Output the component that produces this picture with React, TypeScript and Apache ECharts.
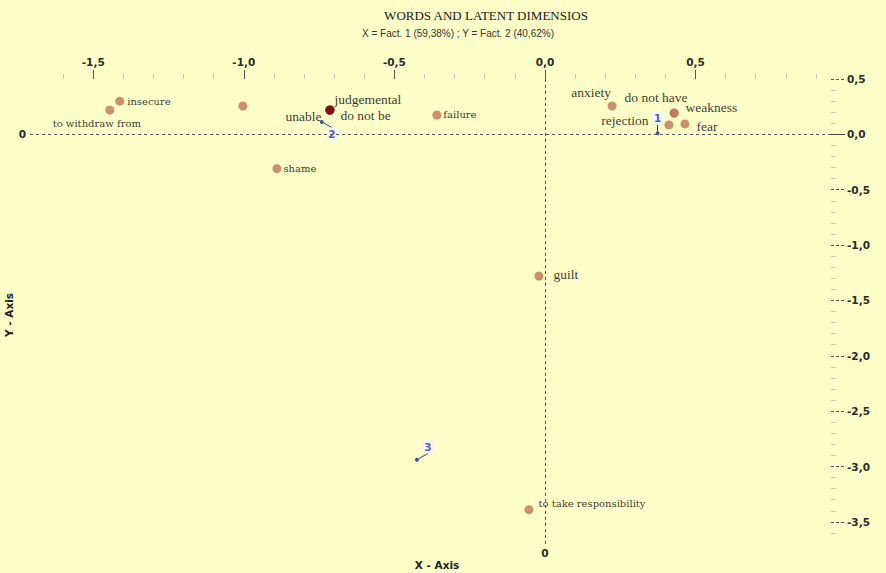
import React, { useEffect, useRef } from "react";
import * as echarts from "echarts";

// ---- data ----
const words = [
  "to withdraw from",
  "insecure",
  "",
  "judgemental",
  "do not be",
  "unable",
  "failure",
  "shame",
  "anxiety",
  "do not have",
  "weakness",
  "rejection",
  "fear",
  "guilt",
  "to take responsibility",
];
const fact1 = [-1.445, -1.412, -1.003, -0.714, -0.714, -0.714, -0.359, -0.89, 0.223, 0.429, 0.429, 0.412, 0.465, -0.02, -0.053];
const fact2 = [0.22, 0.3, 0.256, 0.22, 0.22, 0.22, 0.175, -0.31, 0.256, 0.193, 0.193, 0.085, 0.094, -1.28, -3.39];

const dimNames = ["1", "2", "3"];
const dimX = [0.374, -0.741, -0.425];
const dimY = [0.01, 0.112, -2.94];

const xMajorTicks = [-1.5, -1.0, -0.5, 0, 0.5];
const xMinorTicks = [-1.6, -1.4, -1.3, -1.2, -1.1, -0.9, -0.8, -0.7, -0.6, -0.4, -0.3, -0.2, -0.1, 0.1, 0.2, 0.3, 0.4, 0.6, 0.7, 0.8, 0.9];
const yMajorTicks = [0.5, 0, -0.5, -1.0, -1.5, -2.0, -2.5, -3.0, -3.5];
const yMinorTicks = [0.4, 0.3, 0.2, 0.1, -0.1, -0.2, -0.3, -0.4, -0.6, -0.7, -0.8, -0.9, -1.1, -1.2, -1.3, -1.4, -1.6, -1.7, -1.8, -1.9, -2.1, -2.2, -2.3, -2.4, -2.6, -2.7, -2.8, -2.9, -3.1, -3.2, -3.3, -3.4, -3.6];
const originTick = [0];

const titleText = "WORDS AND LATENT DIMENSIOS";
const subtitleText = "X = Fact. 1 (59,38%) ; Y = Fact. 2 (40,62%)";

// ---- styling (not data) ----
const big = { fontSize: 13.5, fontFamily: "Liberation Serif" };
const small = { fontSize: 10, fontFamily: "DejaVu Serif" };
const labelPlacement: Record<string, any> = {
  "to withdraw from": { position: "bottom", distance: 4, offset: [-13, 0], ...small },
  insecure: { position: "right", distance: 3, ...small },
  "": { show: false },
  judgemental: { position: "right", distance: 0, offset: [0, -11], ...big },
  "do not be": { position: "right", distance: 6, offset: [0, 5], ...big },
  unable: { position: "left", distance: 4, offset: [0, 6], ...big },
  failure: { position: "right", distance: 2, ...small },
  shame: { position: "right", distance: 2, ...small },
  anxiety: { position: "top", distance: 2, offset: [-21, 0], ...big },
  "do not have": { position: "top", distance: 4, offset: [-18, 0], ...big },
  weakness: { position: "right", distance: 7, offset: [0, -5], ...big },
  rejection: { position: "left", distance: 16, offset: [0, -4], ...big },
  fear: { position: "right", distance: 7, offset: [0, 3], ...big },
  guilt: { position: "right", distance: 10, offset: [0, -2], ...big },
  "to take responsibility": { position: "right", distance: 5, offset: [0, -6], ...small },
};
const darkWords = ["judgemental", "do not be", "unable"];
const dimLabelShift = [
  { dx: 0, dy: -15 },
  { dx: 10, dy: 12 },
  { dx: 11, dy: -13 },
];

const fmt = (v: number) => v.toFixed(1).replace(".", ",");
const tickFont = { fontFamily: "DejaVu Sans", fontWeight: "bold" as const, fontSize: 10.5, color: "#2a2a2a" };
const noLine = { show: false, onZero: false };

export default function App() {
  const ref = useRef<HTMLDivElement>(null);
  useEffect(() => {
    const chart = echarts.init(ref.current!, undefined, { renderer: "svg" });
    const X_MIN = -1.71;
    const X_MAX = 0.95;
    const Y_MIN = -3.7;
    const Y_MAX = 0.5;

    const wordData = words.map((w, i) => {
      const p = labelPlacement[w] || {};
      const isDark = darkWords.includes(w);
      return {
        name: w,
        value: [fact1[i], fact2[i]],
        itemStyle: { color: isDark ? "#7a1212" : "#c27358" },
        label: {
          show: p.show !== false,
          position: p.position,
          distance: p.distance,
          offset: p.offset || [0, 0],
          fontSize: p.fontSize,
          fontFamily: p.fontFamily,
        },
      };
    });
    const dimData = dimNames.map((n, i) => ({ name: n, value: [dimX[i], dimY[i]] }));

    const option: any = {
      animation: false,
      backgroundColor: "#fefec9",
      grid: { left: 30, right: 886 - 831, top: 79, bottom: 573 - 544, containLabel: false },
      xAxis: [
        {
          type: "value",
          position: "top",
          min: X_MIN,
          max: X_MAX,
          axisLine: noLine,
          splitLine: { show: false },
          axisTick: { show: true, customValues: xMajorTicks, length: 9, lineStyle: { color: "#555", width: 1 } },
          axisLabel: { customValues: xMajorTicks, formatter: fmt, margin: 12, ...tickFont },
        },
        {
          type: "value",
          position: "top",
          min: X_MIN,
          max: X_MAX,
          axisLine: noLine,
          splitLine: { show: false },
          axisTick: { show: true, customValues: xMinorTicks, length: 5, lineStyle: { color: "#c9c9b8", width: 1 } },
          axisLabel: { show: false },
        },
        {
          type: "value",
          position: "bottom",
          min: X_MIN,
          max: X_MAX,
          axisLine: noLine,
          splitLine: { show: false },
          axisTick: { show: false },
          axisLabel: { customValues: originTick, formatter: (v: number) => String(v), margin: 3, ...tickFont },
        },
      ],
      yAxis: [
        {
          type: "value",
          position: "right",
          min: Y_MIN,
          max: Y_MAX,
          axisLine: noLine,
          splitLine: { show: false },
          axisTick: { show: true, customValues: yMajorTicks, length: 14, lineStyle: { color: "#555", width: 1, type: [3, 2] } },
          axisLabel: { customValues: yMajorTicks, formatter: fmt, margin: 16, ...tickFont },
        },
        {
          type: "value",
          position: "right",
          min: Y_MIN,
          max: Y_MAX,
          axisLine: noLine,
          splitLine: { show: false },
          axisTick: { show: true, customValues: yMinorTicks, length: 5, lineStyle: { color: "#c9c9b8", width: 1 } },
          axisLabel: { show: false },
        },
        {
          type: "value",
          position: "right",
          min: Y_MIN,
          max: Y_MAX,
          axisLine: noLine,
          splitLine: { show: false },
          axisTick: { show: true, customValues: originTick, length: 14, lineStyle: { color: "#444", width: 1 } },
          axisLabel: { show: false },
        },
        {
          type: "value",
          position: "left",
          min: Y_MIN,
          max: Y_MAX,
          axisLine: noLine,
          splitLine: { show: false },
          axisTick: { show: false },
          axisLabel: { customValues: originTick, formatter: (v: number) => String(v), margin: 4, ...tickFont },
        },
      ],
      graphic: [
        {
          type: "text",
          x: 486,
          y: 15,
          style: { text: titleText, align: "center", verticalAlign: "middle", font: "13px 'Liberation Serif'", fill: "#1a1a1a" },
        },
        {
          type: "text",
          x: 458,
          y: 33,
          style: { text: subtitleText, align: "center", verticalAlign: "middle", font: "10px 'Liberation Sans'", fill: "#333" },
        },
        {
          type: "text",
          x: 437,
          y: 565,
          style: { text: "X - Axis", align: "center", verticalAlign: "middle", font: "bold 10.5px 'DejaVu Sans'", fill: "#222" },
        },
        {
          type: "text",
          x: 9,
          y: 315,
          rotation: Math.PI / 2,
          style: { text: "Y - Axis", align: "center", verticalAlign: "middle", font: "bold 10.5px 'DejaVu Sans'", fill: "#222" },
        },
      ],
      series: [
        {
          type: "scatter",
          xAxisIndex: 0,
          yAxisIndex: 0,
          symbolSize: 9,
          data: wordData,
          label: {
            show: true,
            formatter: "{b}",
            color: "#000",
          },
          markLine: {
            silent: true,
            symbol: ["none", "none"],
            label: { show: false },
            lineStyle: { color: "#555", type: [3, 3], width: 1 },
            data: [{ xAxis: 0 }, { yAxis: 0 }],
          },
          z: 3,
        },
        {
          type: "scatter",
          xAxisIndex: 0,
          yAxisIndex: 0,
          symbolSize: 4,
          itemStyle: { color: "#1b2680" },
          data: dimData,
          label: {
            show: true,
            position: "inside",
            formatter: "{b}",
            color: "#2b3aa0",
            fontWeight: "bold",
            fontSize: 10.5,
            fontFamily: "DejaVu Sans",
            backgroundColor: "rgba(235,240,255,0.95)",
            padding: [1, 2],
            borderRadius: 3,
          },
          labelLayout: (p: any) => dimLabelShift[p.dataIndex],
          labelLine: { show: true, lineStyle: { color: "#2b3aa0", width: 1 } },
          z: 4,
        },
      ],
    };
    chart.setOption(option);
    return () => chart.dispose();
  }, []);
  return <div ref={ref} style={{ position: "fixed", left: 0, top: 0, width: 886, height: 573 }} />;
}
